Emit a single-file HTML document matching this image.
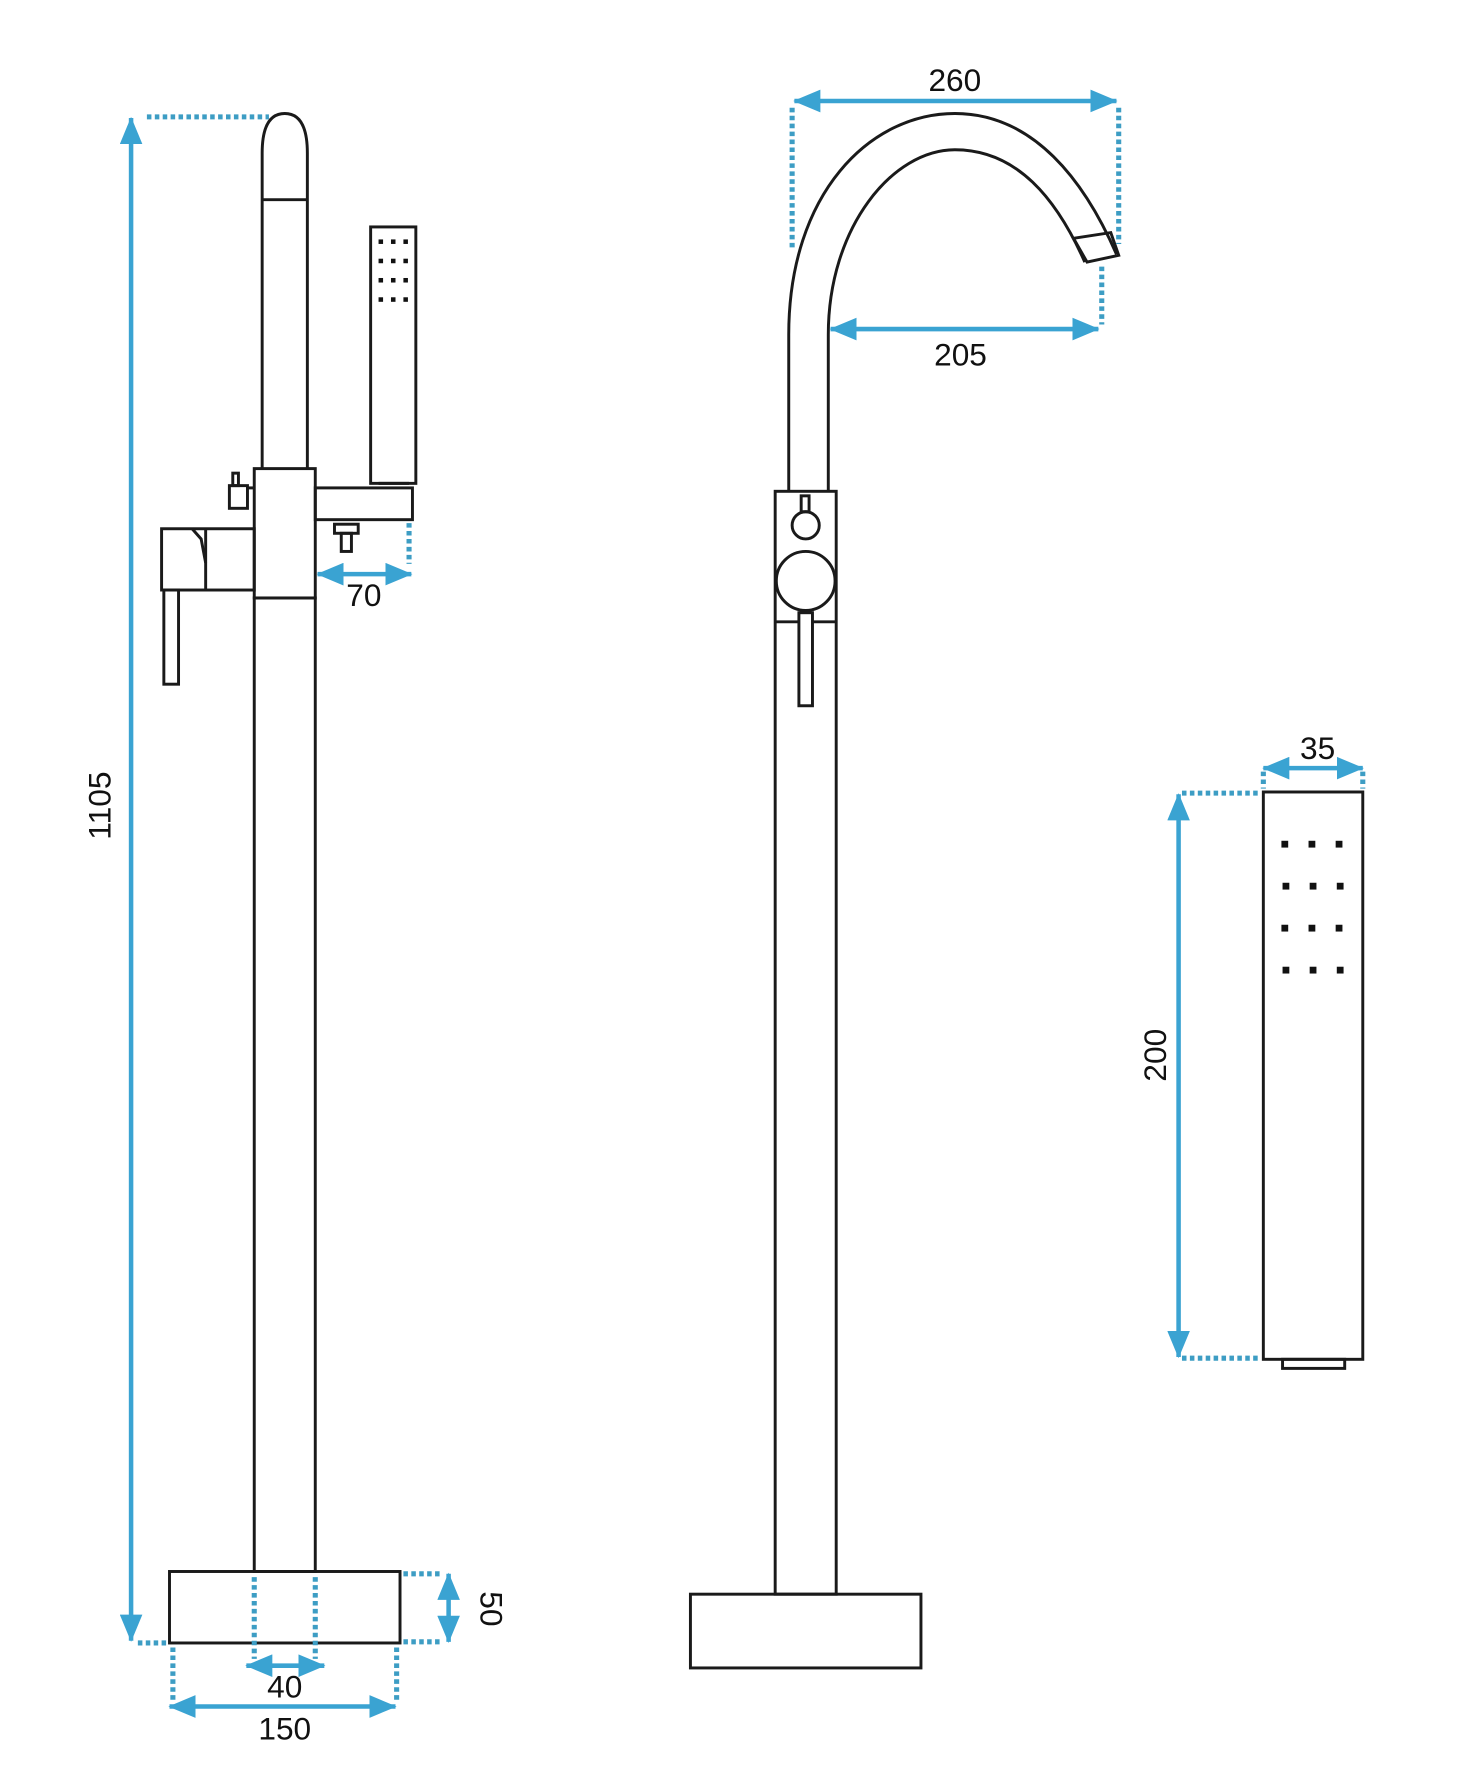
<!DOCTYPE html>
<html><head><meta charset="utf-8"><style>
html,body{margin:0;padding:0;background:#fff;}
svg{display:block;}
text{font-family:"Liberation Sans",sans-serif;font-size:28px;fill:#111;}
</style></head><body>
<svg width="1469" height="1778" viewBox="0 0 1300 1567" preserveAspectRatio="none" xmlns="http://www.w3.org/2000/svg">
<defs>
<marker id="a" viewBox="0 0 24 20" refX="23" refY="10" markerWidth="24" markerHeight="20" markerUnits="userSpaceOnUse" orient="auto-start-reverse"><path d="M0,0 L24,10 L0,20 Z" fill="#3aa3d2"/></marker>
</defs>
<g fill="none" stroke="#1a1a1a" stroke-width="2.6">
<path d="M232,413 L232,135 Q232,100 252,100 Q272,100 272,135 L272,413"/>
<line x1="232" y1="176" x2="272" y2="176"/>
<rect x="225" y="413" width="54" height="114"/>
<rect x="225" y="527" width="54" height="858"/>
<rect x="150" y="1385" width="204" height="63"/>
<rect x="279" y="430" width="86" height="28"/>
<rect x="328" y="200" width="40" height="226"/>
<line x1="335" y1="426" x2="362" y2="426"/>
<rect x="296" y="462" width="21" height="8"/>
<rect x="302" y="470" width="9" height="16"/>
<rect x="143" y="466" width="82" height="54"/>
<path d="M170,466 L178,475 L182,496"/>
<line x1="182" y1="466" x2="182" y2="520"/>
<rect x="145" y="520" width="13" height="83"/>
<rect x="203" y="428" width="16" height="20"/>
<rect x="206" y="417" width="5" height="11"/>
<line x1="219" y1="430" x2="225" y2="430"/>
<path d="M698,433 L698,295 C698,170 770,100 845,100 C915,100 960,160 988,224"/>
<path d="M733,433 L733,295 C733,200 790,132 845,132 C900,132 935,175 960,231"/>
<path d="M950,210 L983,205 L990,225 L962,231 Z"/>
<rect x="686" y="433" width="54" height="972"/>
<line x1="686" y1="548" x2="740" y2="548"/>
<circle cx="713" cy="512" r="26" fill="#fff"/>
<circle cx="713" cy="463" r="12"/>
<rect x="709" y="437" width="7" height="14"/>
<rect x="707" y="540" width="12" height="82" fill="#fff"/>
<rect x="611" y="1405" width="204" height="65"/>
<rect x="1118" y="698" width="88" height="500"/>
<rect x="1135" y="1198" width="55" height="8"/>
</g>
<g fill="#111">
<rect x="335" y="211" width="4" height="4"/><rect x="346" y="211" width="4" height="4"/><rect x="357" y="211" width="4" height="4"/>
<rect x="335" y="228" width="4" height="4"/><rect x="346" y="228" width="4" height="4"/><rect x="357" y="228" width="4" height="4"/>
<rect x="335" y="245" width="4" height="4"/><rect x="346" y="245" width="4" height="4"/><rect x="357" y="245" width="4" height="4"/>
<rect x="335" y="262" width="4" height="4"/><rect x="346" y="262" width="4" height="4"/><rect x="357" y="262" width="4" height="4"/>
<rect x="1134" y="741" width="6" height="6"/><rect x="1158" y="741" width="6" height="6"/><rect x="1182" y="741" width="6" height="6"/>
<rect x="1135" y="778" width="6" height="6"/><rect x="1159" y="778" width="6" height="6"/><rect x="1183" y="778" width="6" height="6"/>
<rect x="1134" y="815" width="6" height="6"/><rect x="1158" y="815" width="6" height="6"/><rect x="1182" y="815" width="6" height="6"/>
<rect x="1135" y="852" width="6" height="6"/><rect x="1159" y="852" width="6" height="6"/><rect x="1183" y="852" width="6" height="6"/>
</g>
<g stroke="#3d9dc4" stroke-width="4.5" stroke-dasharray="4 3" fill="none">
<line x1="130" y1="103" x2="238" y2="103"/>
<line x1="122" y1="1448" x2="150" y2="1448"/>
<line x1="362" y1="461" x2="362" y2="497"/>
<line x1="225" y1="1390" x2="225" y2="1462"/>
<line x1="279" y1="1390" x2="279" y2="1462"/>
<line x1="153" y1="1452" x2="153" y2="1498"/>
<line x1="351" y1="1452" x2="351" y2="1498"/>
<line x1="357" y1="1387" x2="390" y2="1387"/>
<line x1="357" y1="1447" x2="390" y2="1447"/>
<line x1="701" y1="95" x2="701" y2="218"/>
<line x1="990" y1="95" x2="990" y2="215"/>
<line x1="975" y1="235" x2="975" y2="286"/>
<line x1="1118" y1="680" x2="1118" y2="695"/>
<line x1="1206" y1="680" x2="1206" y2="695"/>
<line x1="1046" y1="699" x2="1116" y2="699"/>
<line x1="1046" y1="1197" x2="1116" y2="1197"/>
</g>
<g stroke="#3aa3d2" stroke-width="4" fill="none" marker-start="url(#a)" marker-end="url(#a)">
<line x1="116" y1="104" x2="116" y2="1446"/>
<line x1="281" y1="506" x2="364" y2="506"/>
<line x1="218" y1="1468" x2="287" y2="1468"/>
<line x1="150" y1="1504" x2="350" y2="1504"/>
<line x1="397" y1="1387" x2="397" y2="1447"/>
<line x1="703" y1="89" x2="988" y2="89"/>
<line x1="735" y1="290" x2="972" y2="290"/>
<line x1="1118" y1="677" x2="1206" y2="677"/>
<line x1="1043" y1="700" x2="1043" y2="1196"/>
</g>
<text x="322" y="534" text-anchor="middle">70</text>
<text x="252" y="1496" text-anchor="middle">40</text>
<text x="252" y="1533" text-anchor="middle">150</text>
<text transform="translate(98,710) rotate(-90)" text-anchor="middle">1105</text>
<text transform="translate(425,1418) rotate(90)" text-anchor="middle">50</text>
<text x="845" y="80" text-anchor="middle">260</text>
<text x="850" y="322" text-anchor="middle">205</text>
<text x="1166" y="669" text-anchor="middle">35</text>
<text transform="translate(1032,930) rotate(-90)" text-anchor="middle">200</text>
</svg>
</body></html>
